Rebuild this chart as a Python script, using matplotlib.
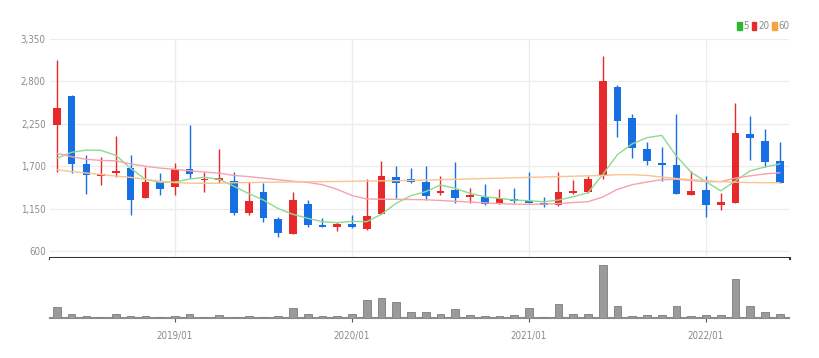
import numpy as np
import matplotlib.pyplot as plt
from matplotlib.patches import Patch

plt.rcParams['font.family'] = ['Liberation Sans Narrow', 'DejaVu Sans']
plt.rcParams['font.stretch'] = 'condensed'

# monthly candles 2018/05 .. 2022/06
opens = [2234, 2610, 1725, 1577, 1608, 1672, 1291, 1491, 1434, 1659,
         1517, 1521, 1512, 1089, 1365, 1019, 824, 1210, 937, 915,
         950, 881, 1076, 1556, 1530, 1499, 1348, 1391, 1296, 1296,
         1206, 1270, 1252, 1226, 1197, 1352, 1369, 1573, 2723, 2321,
         1923, 1745, 1715, 1330, 1387, 1197, 1226, 2113, 2031, 1763]
highs = [3077, 2630, 1845, 1823, 2092, 1841, 1693, 1608, 1737, 2234,
         1628, 1919, 1628, 1499, 1486, 1045, 1361, 1261, 1032, 980,
         1067, 1530, 1767, 1702, 1680, 1702, 1573, 1758, 1413, 1469,
         1400, 1413, 1621, 1304, 1628, 1521, 1577, 3129, 2753, 2373,
         2014, 1945, 2373, 1641, 1573, 1348, 2523, 2351, 2182, 2018]
lows = [1628, 1608, 1339, 1456, 1564, 1063, 1283, 1326, 1326, 1543,
        1369, 1478, 1067, 1067, 972, 785, 824, 915, 907, 859,
        894, 872, 1076, 1283, 1478, 1261, 1326, 1219, 1219, 1197,
        1206, 1219, 1219, 1175, 1190, 1339, 1348, 1530, 2075, 1810,
        1715, 1508, 1339, 1330, 1045, 1132, 1226, 1780, 1685, 1486]
closes = [2451, 1728, 1582, 1599, 1641, 1261, 1499, 1404, 1659, 1599,
          1538, 1543, 1097, 1252, 1032, 837, 1257, 941, 915, 950,
          907, 1058, 1573, 1486, 1499, 1317, 1378, 1283, 1322, 1206,
          1283, 1249, 1226, 1197, 1361, 1382, 1538, 2805, 2286, 1932,
          1771, 1715, 1339, 1374, 1197, 1239, 2134, 2070, 1750, 1486]
volumes = [33, 12, 6, 3, 12, 6, 6, 3, 6, 11,
           3, 8, 3, 5, 3, 5, 31, 12, 6, 6,
           11, 55, 60, 49, 18, 17, 12, 27, 8, 6,
           6, 8, 31, 3, 42, 11, 11, 159, 37, 7,
           8, 8, 35, 6, 8, 8, 118, 37, 17, 13]
ma5 = [1802, 1880, 1910, 1905, 1840, 1672, 1530, 1490, 1495, 1534,
       1556, 1530, 1440, 1345, 1261, 1150, 1076, 1024, 980, 967,
       985, 980, 1076, 1219, 1317, 1370, 1456, 1413, 1348, 1304,
       1283, 1261, 1252, 1239, 1261, 1304, 1356, 1590, 1850, 1990,
       2070, 2100, 1830, 1620, 1500, 1380, 1510, 1640, 1690, 1730]
ma20 = [1867, 1823, 1789, 1775, 1770, 1730, 1700, 1675, 1660, 1640,
        1625, 1610, 1580, 1565, 1545, 1525, 1505, 1490, 1460, 1400,
        1320, 1275, 1272, 1270, 1268, 1265, 1255, 1245, 1235, 1225,
        1215, 1208, 1205, 1208, 1215, 1228, 1240, 1300, 1400, 1460,
        1495, 1525, 1530, 1515, 1500, 1500, 1545, 1575, 1600, 1615]
ma60 = [1655, 1630, 1612, 1592, 1572, 1555, 1530, 1505, 1487, 1480,
        1478, 1480, 1485, 1488, 1490, 1493, 1496, 1498, 1500, 1502,
        1505, 1508, 1510, 1512, 1515, 1520, 1525, 1530, 1535, 1540,
        1545, 1550, 1555, 1560, 1565, 1570, 1575, 1580, 1590, 1590,
        1580, 1560, 1540, 1525, 1512, 1500, 1492, 1488, 1486, 1486]
price_ticks = [600, 1150, 1700, 2250, 2800, 3350]
date_ticks = [8, 20, 32, 44]
date_labels = ['2019/01', '2020/01', '2021/01', '2022/01']

up_color = '#e8292c'
down_color = '#1670e3'
label_color = '#8a8a8a'

x = np.arange(len(closes))
o = np.array(opens)
c = np.array(closes)
colors = [up_color if cc >= oo else down_color for oo, cc in zip(o, c)]

fig = plt.figure(figsize=(8.19, 3.58), dpi=100)
ax = fig.add_axes([0.061, 0.2793, 0.9024, 0.6117])
axv = fig.add_axes([0.061, 0.1117, 0.9024, 0.1676], sharex=ax)

# price panel
ax.vlines(x, lows, highs, colors=colors, linewidth=1.0, zorder=3)
ax.bar(x, np.maximum(np.abs(c - o), 8), bottom=np.minimum(o, c), width=0.52,
       color=colors, zorder=4)
ax.plot(x, ma5, color='#8fd98f', linewidth=1.0, zorder=5)
ax.plot(x, ma20, color='#f5a3ad', linewidth=1.0, zorder=5)
ax.plot(x, ma60, color='#f8c48f', linewidth=1.0, zorder=5)

ax.set_ylim(509, 3350)
ax.set_xlim(-0.47, 49.63)
ax.set_yticks(price_ticks)
ax.set_yticklabels(['{:,}'.format(v) for v in price_ticks])
ax.set_xticks(date_ticks)
ax.grid(True, color='#ececec', linewidth=0.9, zorder=0)
ax.tick_params(axis='y', length=0, pad=3, labelsize=7, labelcolor=label_color)
ax.tick_params(axis='x', length=0, labelbottom=False)
for s in ['top', 'left', 'right']:
    ax.spines[s].set_visible(False)
ax.spines['bottom'].set_color('#333333')
ax.spines['bottom'].set_linewidth(2.2)

# volume panel
axv.bar(x, volumes, width=0.52, color='#9b9b9b', edgecolor='#7d7d7d',
        linewidth=0.6, zorder=3)
axv.set_ylim(0, max(volumes) * 60 / 53)
axv.set_yticks([])
axv.set_xticks(date_ticks)
axv.set_xticklabels(date_labels)
axv.tick_params(axis='x', length=3, width=0.8, color='#555555', pad=6,
                labelsize=7, labelcolor=label_color)
for s in ['top', 'left', 'right']:
    axv.spines[s].set_visible(False)
axv.spines['bottom'].set_color('#8c8c8c')
axv.spines['bottom'].set_linewidth(1.5)

handles = [Patch(color='#2eb82e'), Patch(color='#e8292c'), Patch(color='#f5a340')]
fig.legend(handles, ['5', '20', '60'], loc='upper right',
           bbox_to_anchor=(0.975, 0.965), ncol=3, frameon=False,
           fontsize=7, labelcolor=label_color, handlelength=0.45,
           handleheight=0.9, handletextpad=0.2, columnspacing=0.3)

fig.savefig('out.png', dpi=100)
